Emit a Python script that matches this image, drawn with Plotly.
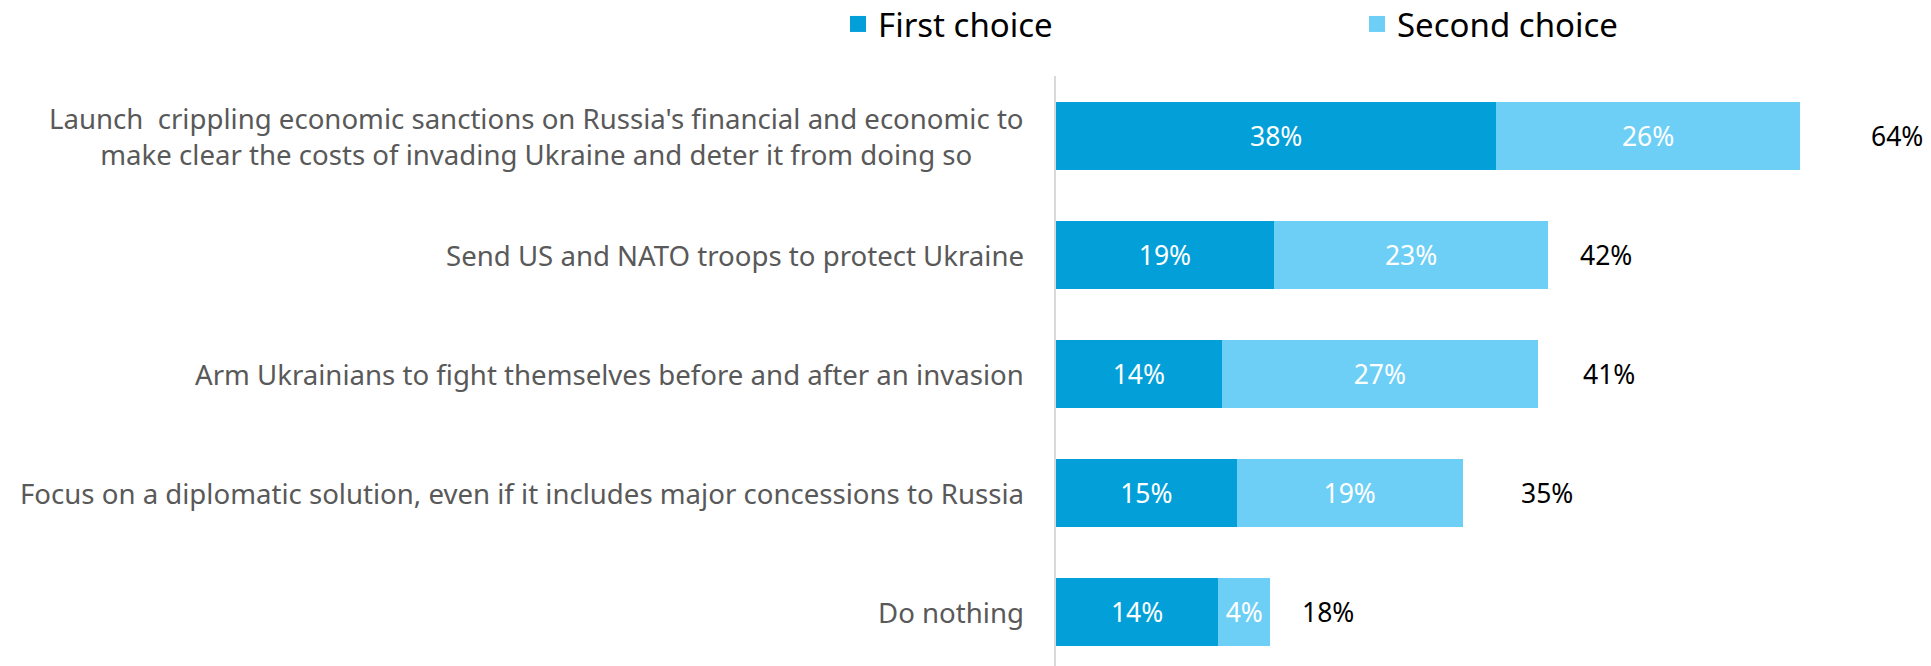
import plotly.graph_objects as go

categories = [
    "Launch  crippling economic sanctions on Russia's financial and economic to<br>make clear the costs of invading Ukraine and deter it from doing so",
    "Send US and NATO troops to protect Ukraine",
    "Arm Ukrainians to fight themselves before and after an invasion",
    "Focus on a diplomatic solution, even if it includes major concessions to Russia",
    "Do nothing",
]
# bar lengths (percent)
first_choice = [38.0, 18.8, 14.3, 15.6, 14.0]
second_choice = [26.2, 23.7, 27.3, 19.5, 4.5]
# printed labels
first_labels = ["38%", "19%", "14%", "15%", "14%"]
second_labels = ["26%", "23%", "27%", "19%", "4%"]
total_labels = ["64%", "42%", "41%", "35%", "18%"]

# style: horizontal gap between bar end and the total label (in axis units)
total_label_gap = [8.4, 5.0, 6.1, 7.3, 5.0]

C1 = "#029FD9"
C2 = "#6DCFF6"
FONT = "Noto Sans"

W, H = 1931, 666
L, R, T, B = 1056, 6, 76, 0

fig = go.Figure()
fig.add_trace(go.Bar(
    y=categories, x=first_choice, orientation="h", marker=dict(color=C1, line=dict(width=0)),
    text=first_labels, textposition="inside", insidetextanchor="middle",
    textfont=dict(color="white", size=26.5, family=FONT), showlegend=False, hoverinfo="skip",
))
fig.add_trace(go.Bar(
    y=categories, x=second_choice, orientation="h", marker=dict(color=C2, line=dict(width=0)),
    text=second_labels, textposition="inside", insidetextanchor="middle",
    textfont=dict(color="white", size=26.5, family=FONT), showlegend=False, hoverinfo="skip",
))
# legend entries
fig.add_trace(go.Scatter(x=[None], y=[None], mode="markers", name="First choice",
                         marker=dict(symbol="square", size=20, color=C1)))
fig.add_trace(go.Scatter(x=[None], y=[None], mode="markers", name="Second choice",
                         marker=dict(symbol="square", size=20, color=C2)))

annotations = []
for cat, a, b, lab, gap in zip(categories, first_choice, second_choice, total_labels, total_label_gap):
    annotations.append(dict(x=a + b + gap, y=cat, xref="x", yref="y", text=lab,
                            showarrow=False, xanchor="center", yanchor="middle",
                            font=dict(size=26.5, color="black", family=FONT)))
    annotations.append(dict(x=0, y=cat, xref="paper", yref="y", text=cat,
                            showarrow=False, xanchor="right", yanchor="middle", align="center",
                            xshift=-30, font=dict(size=27.6, color="#595959", family=FONT)))

plot_w = W - L - R
plot_h = H - T - B

fig.update_layout(
    width=W, height=H,
    margin=dict(l=L, r=R, t=T, b=B, pad=0, autoexpand=False),
    barmode="stack", bargap=0.43,
    plot_bgcolor="white", paper_bgcolor="white",
    font=dict(family=FONT),
    xaxis=dict(range=[0, 75], visible=False, fixedrange=True),
    yaxis=dict(autorange=False, range=[4.45, -0.5], showticklabels=False, showgrid=False,
               showline=True, linecolor="#D9D9D9", linewidth=2, ticks="", zeroline=False,
               automargin=False, fixedrange=True),
    legend=dict(orientation="h",
                x=(838 - L) / plot_w, xanchor="left", y=1 + (T - 24) / plot_h, yanchor="middle",
                traceorder="normal",
                font=dict(size=33, color="black", family=FONT), entrywidth=474,
                itemsizing="trace", bgcolor="rgba(0,0,0,0)"),
    annotations=annotations,
)

fig.write_html("out.html", config={"displayModeBar": False},
               post_script="document.body.style.margin='0';")
